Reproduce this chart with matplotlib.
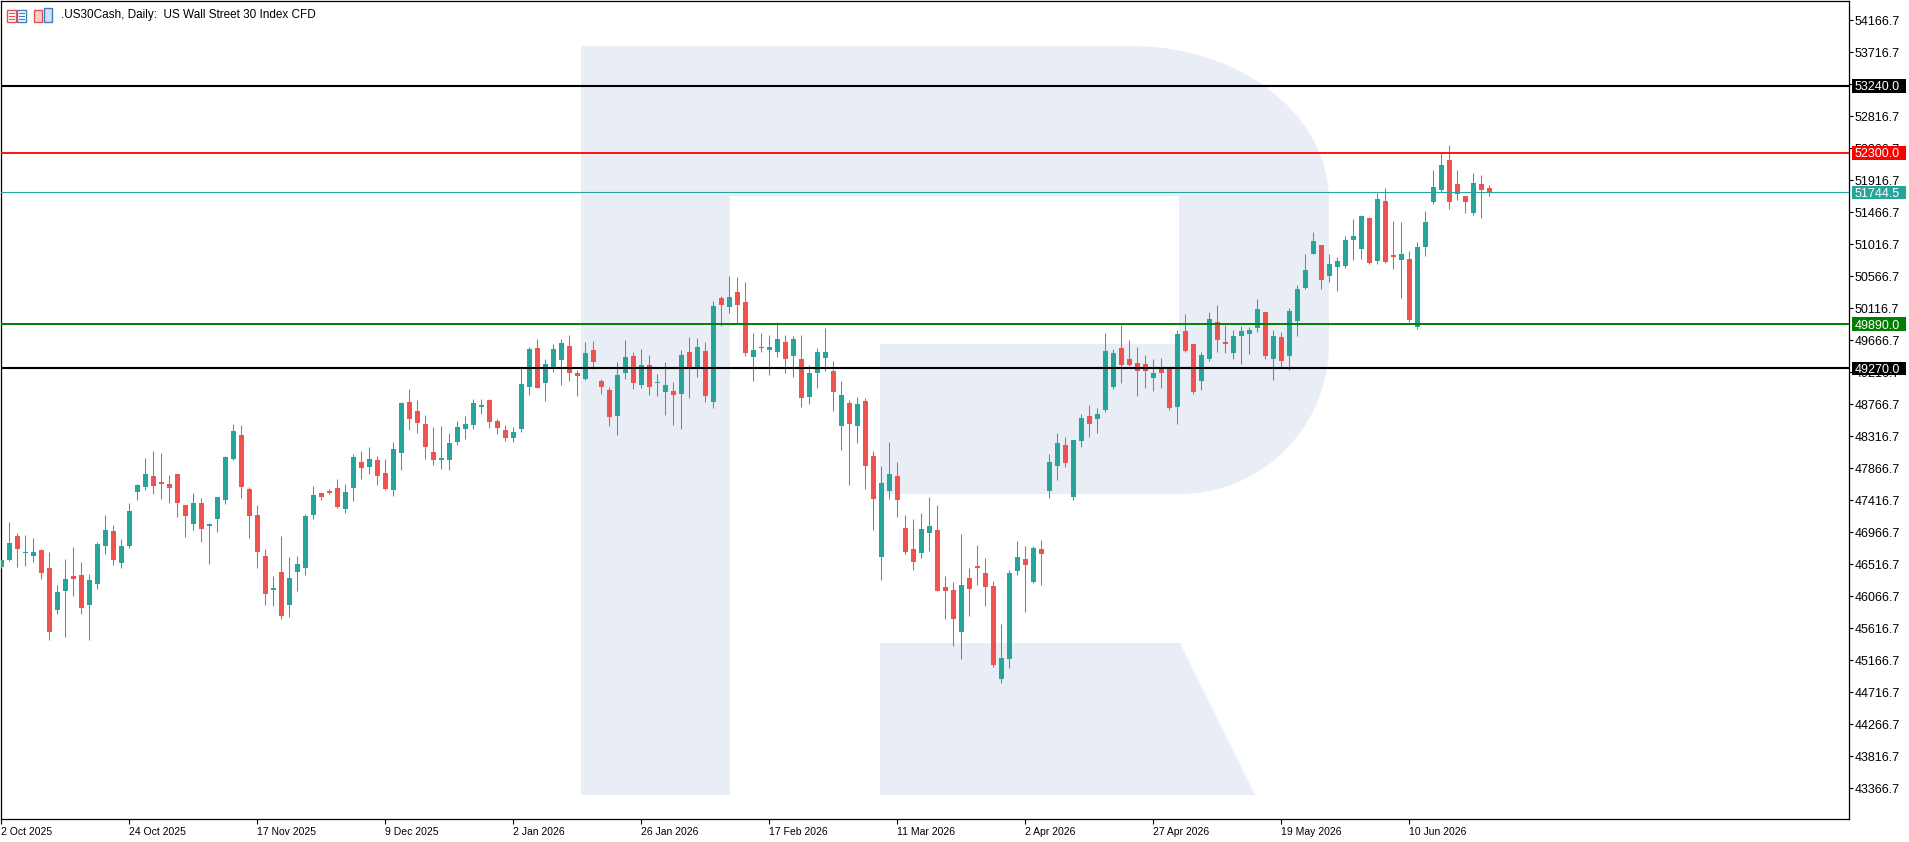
"""Daily candlestick chart of .US30Cash with support / resistance levels."""

import matplotlib
import numpy as np

matplotlib.use("Agg")
import matplotlib.pyplot as plt
import matplotlib.transforms as mtransforms
from matplotlib.patches import Polygon, Rectangle

# OHLC per daily bar, 2 Oct 2025 .. 24 Jun 2026
opens = [46479, 46573, 46910, 46676, 46634, 46713, 46460, 45874, 46142, 46348,
         46362, 45945, 46240, 46774, 46981, 46535, 46774, 47534, 47604, 47754,
         47670, 47642, 47782, 47346, 47084, 47374, 47056, 47154, 47421, 47998,
         48331, 47571, 47206, 46629, 46156, 46404, 45945, 46409, 46465, 47210,
         47515, 47548, 47585, 47295, 47590, 47951, 47885, 47979, 47796, 47562,
         48082, 48795, 48668, 48485, 48092, 47984, 47984, 48237, 48420, 48476,
         48729, 48823, 48528, 48401, 48290, 48420, 49010, 49554, 49067, 49292,
         49390, 49582, 49203, 49123, 49526, 49090, 48964, 48603, 49207, 49442,
         49039, 49315, 49067, 48940, 48950, 48912, 49498, 49292, 49512, 48799,
         50257, 50135, 50342, 50201, 49432, 49551, 49526, 49501, 49636, 49442,
         49397, 48869, 49202, 49412, 49227, 48460, 48779, 48460, 48804, 48032,
         46618, 47544, 47763, 47031, 46737, 46673, 46951, 46991, 46190, 46160,
         45562, 46329, 46488, 46399, 46205, 44899, 45179, 46419, 46588, 46264,
         46737, 47544, 47898, 48187, 47455, 48246, 48595, 48565, 48679, 49008,
         49551, 49397, 49352, 49327, 49128, 49267, 49272, 48724, 49795, 49606,
         49093, 49402, 49924, 49641, 49486, 49720, 49750, 49835, 50059, 49397,
         49710, 49437, 49930, 50398, 50876, 51000, 50567, 50697, 50711, 51075,
         50950, 51379, 50776, 51618, 50861, 50796, 50801, 49845, 50975, 51603,
         51777, 52195, 51857, 51687, 51454, 51857, 51802]
highs = [46580, 47107, 46953, 46924, 46882, 46737, 46685, 46221, 46587, 46756,
         46545, 46376, 46826, 47206, 47065, 46868, 47374, 47642, 48007, 48106,
         48078, 47768, 47782, 47346, 47515, 47445, 47093, 47459, 48035, 48485,
         48471, 47599, 47346, 46728, 46348, 46910, 46615, 46629, 47220, 47614,
         47515, 47571, 47712, 47642, 48064, 48106, 48162, 48035, 47993, 48232,
         48795, 48978, 48823, 48612, 48443, 48457, 48359, 48528, 48598, 48837,
         48837, 48837, 48556, 48471, 48448, 49292, 49568, 49681, 49399, 49610,
         49681, 49737, 49245, 49638, 49652, 49118, 49006, 49357, 49667, 49498,
         49540, 49456, 49189, 49357, 49076, 49526, 49709, 49695, 49638, 50215,
         50285, 50567, 50553, 50482, 49765, 49760, 49735, 49920, 49735, 49720,
         49735, 49312, 49551, 49840, 49367, 49088, 48824, 48874, 48849, 48102,
         47893, 48241, 47948, 47215, 47146, 47230, 47464, 47355, 46344, 46269,
         46946, 46458, 46792, 46598, 46274, 45682, 46429, 46837, 46767, 46767,
         46852, 48072, 48356, 48311, 48266, 48635, 48749, 48709, 49760, 49536,
         49880, 49666, 49566, 49451, 49397, 49417, 49292, 49805, 50029, 49606,
         49497, 50059, 50159, 49885, 49805, 49860, 49845, 50238, 50059, 49805,
         49785, 50114, 50437, 50876, 51185, 51000, 50876, 50831, 51125, 51369,
         51429, 51394, 51737, 51802, 51339, 51324, 50916, 51050, 51483, 52056,
         52295, 52410, 52056, 51687, 52011, 51986, 51852]
lows = [46470, 46564, 46479, 46493, 46549, 46310, 45453, 45818, 45495, 46071,
        45818, 45453, 46170, 46662, 46507, 46465, 46746, 47421, 47562, 47506,
        47435, 47379, 47182, 46901, 46999, 46831, 46521, 46971, 47365, 47984,
        47449, 46887, 46465, 45945, 45931, 45753, 45776, 46142, 46367, 47154,
        47421, 47506, 47309, 47239, 47407, 47717, 47787, 47632, 47562, 47478,
        47843, 48406, 48363, 47998, 47914, 47857, 47843, 48195, 48279, 48420,
        48631, 48434, 48349, 48250, 48230, 48380, 48898, 48996, 48814, 49221,
        49039, 49095, 48884, 49109, 49264, 48912, 48462, 48340, 49123, 48982,
        48996, 48898, 48884, 48617, 48476, 48420, 48856, 49151, 48799, 48715,
        49868, 50051, 49910, 49442, 49095, 49506, 49173, 49427, 49202, 49148,
        48724, 48764, 48988, 49232, 48665, 48122, 47629, 48221, 47569, 47000,
        46299, 47430, 47181, 46658, 46434, 46608, 46707, 46145, 45751, 45373,
        45189, 45786, 46219, 45926, 45074, 44850, 45064, 46359, 45851, 46249,
        46219, 47445, 47698, 47878, 47420, 48162, 48301, 48361, 48650, 48983,
        49063, 49297, 48879, 48993, 48953, 48998, 48690, 48485, 49501, 48909,
        48963, 49372, 49501, 49486, 49397, 49332, 49471, 49785, 49397, 49103,
        49272, 49247, 49720, 50388, 50876, 50383, 50487, 50358, 50681, 50791,
        50806, 50736, 50731, 50751, 50667, 50253, 49920, 49825, 50846, 51583,
        51752, 51513, 51638, 51459, 51429, 51384, 51697]
closes = [46573, 46812, 46732, 46685, 46685, 46395, 45565, 46123, 46306, 46310,
          45902, 46292, 46798, 46995, 46578, 46770, 47262, 47628, 47782, 47618,
          47646, 47590, 47379, 47196, 47374, 47014, 47084, 47459, 48021, 48387,
          47604, 47196, 46690, 46099, 46179, 45790, 46320, 46517, 47192, 47487,
          47464, 47520, 47323, 47529, 48021, 47871, 47993, 47759, 47576, 48134,
          48781, 48560, 48504, 48167, 47984, 48007, 48218, 48443, 48485, 48781,
          48753, 48518, 48434, 48293, 48380, 49048, 49540, 48996, 49329, 49540,
          49624, 49207, 49165, 49484, 49362, 49010, 48589, 49174, 49428, 49067,
          49315, 49010, 49076, 49034, 48898, 49456, 49292, 49568, 48884, 50145,
          50159, 50271, 50164, 49489, 49526, 49566, 49566, 49676, 49402, 49676,
          48849, 49198, 49496, 49496, 48939, 48889, 48485, 48764, 47898, 47430,
          47664, 47778, 47420, 46688, 46543, 47006, 47056, 46145, 46140, 45751,
          46229, 46175, 46468, 46194, 45104, 45204, 46399, 46623, 46503, 46742,
          46658, 47948, 48216, 47937, 48256, 48575, 48485, 48625, 49511, 49481,
          49312, 49317, 49232, 49232, 49198, 49202, 48714, 49750, 49516, 48939,
          49457, 49959, 49666, 49611, 49720, 49790, 49810, 50099, 49437, 49720,
          49367, 50074, 50383, 50647, 51055, 50512, 50731, 50776, 51070, 51125,
          51409, 50751, 51648, 50766, 50836, 50876, 49944, 50970, 51324, 51817,
          52126, 51613, 51722, 51613, 51872, 51777, 51744.5]

date_labels = ["2 Oct 2025", "24 Oct 2025", "17 Nov 2025", "9 Dec 2025",
               "2 Jan 2026", "26 Jan 2026", "17 Feb 2026", "11 Mar 2026",
               "2 Apr 2026", "27 Apr 2026", "19 May 2026", "10 Jun 2026"]
date_step = 16

price_ticks = [54166.7 - 450 * k for k in range(25)]

# horizontal levels: value, colour, line width
levels = [53240.0, 52300.0, 51744.5, 49890.0, 49270.0]
level_colors = ["#000000", "#FF0000", "#26A69A", "#008000", "#000000"]
level_widths = [1.5, 1.3, 0.8, 1.4, 1.5]

UP = "#26A69A"
DOWN = "#EF5350"
WATERMARK = "#E9EEF6"

W, H = 1909, 842
FONT = "Liberation Sans"


def px(x, y):
    """Figure pixel (origin top-left) -> figure fraction."""
    return x / W, 1 - y / H


def main() -> None:
    fig = plt.figure(figsize=(W / 100, H / 100), dpi=100)
    fig.patch.set_facecolor("white")
    left, top = px(1, 1)
    right, bottom = px(1849, 819)
    ax = fig.add_axes([left, bottom, right - left, top - bottom])
    ax.set_facecolor("white")

    o = np.array(opens, dtype=float)
    h = np.array(highs, dtype=float)
    l = np.array(lows, dtype=float)
    c = np.array(closes, dtype=float)
    x = np.arange(len(o))
    colors = np.where(c >= o, UP, DOWN)

    ax.set_xlim(-0.0625, 230.94)
    ax.set_ylim(42935, 54434)

    # watermark "R"
    arc_top = [(1132 + 197 * np.sin(t), 200 - 154 * np.cos(t)) for t in np.linspace(0, np.pi / 2, 20)]
    arc_bot = [(1180 + 149 * np.cos(t), 344 + 150 * np.sin(t)) for t in np.linspace(0, np.pi / 2, 20)]
    body = ([(581, 46)] + arc_top + [(1329, 344)] + arc_bot
            + [(880, 494), (880, 344), (1179, 344), (1179, 196), (730, 196), (730, 795), (581, 795)])
    leg = [(880, 643), (1180, 643), (1255, 795), (880, 795)]
    for shape in (body, leg):
        ax.add_patch(Polygon([px(*p) for p in shape], closed=True, transform=fig.transFigure,
                             facecolor=WATERMARK, edgecolor="none", zorder=0.5))

    # candles
    ax.vlines(x, l, h, colors=colors, linewidth=0.75, zorder=3)
    heights = np.maximum(np.abs(c - o), 14)
    ax.bar(x, heights, bottom=np.minimum(o, c), width=0.625, color=colors,
           linewidth=0, zorder=3)

    for value, col, lw in zip(levels, level_colors, level_widths):
        ax.axhline(value, color=col, linewidth=lw, zorder=4)

    # axes styling
    for sp in ax.spines.values():
        sp.set_color("black")
        sp.set_linewidth(0.9)
    ax.yaxis.tick_right()
    ax.set_yticks(price_ticks)
    ax.set_yticklabels([f"{v:.1f}" for v in price_ticks], fontfamily=FONT, fontsize=9)
    ax.tick_params(axis="y", length=3, width=0.8, pad=1)
    ticks_x = [date_step * k for k in range(len(date_labels))]
    ax.set_xticks(ticks_x)
    ax.set_xticklabels(date_labels, fontfamily=FONT, fontsize=7.5, ha="left")
    ax.tick_params(axis="x", length=3.5, width=0.8, pad=2)

    # price boxes on the right scale
    blend = mtransforms.blended_transform_factory(fig.transFigure, ax.transData)
    for value, col in zip(levels, level_colors):
        box = Rectangle((1852 / W, value - 95), 54 / W, 190, transform=blend,
                        facecolor=col, edgecolor="none", clip_on=False, zorder=5)
        fig.add_artist(box)
        fig.text(1855 / W, 0, f"{value:.1f}", transform=blend, fontsize=9, fontfamily=FONT,
                 color="white", ha="left", va="center_baseline", zorder=6)
        fig.texts[-1].set_y(value)

    # header icons and caption
    fig.add_artist(Rectangle(px(7, 22), 9 / W, 12 / H, transform=fig.transFigure,
                             facecolor="white", edgecolor="#E8504F", linewidth=1))
    fig.add_artist(Rectangle(px(17, 22), 9 / W, 12 / H, transform=fig.transFigure,
                             facecolor="white", edgecolor="#3A7FC4", linewidth=1))
    for yy in (13, 16, 19):
        fig.add_artist(plt.Line2D([9 / W, 14 / W], [1 - yy / H] * 2, color="#E8504F", linewidth=0.8))
        fig.add_artist(plt.Line2D([19 / W, 24 / W], [1 - yy / H] * 2, color="#3A7FC4", linewidth=0.8))
    fig.add_artist(Rectangle(px(34, 22), 8 / W, 12 / H, transform=fig.transFigure,
                             facecolor="#F8D0D0", edgecolor="#E8504F", linewidth=1))
    fig.add_artist(Rectangle(px(44, 22), 8 / W, 14 / H, transform=fig.transFigure,
                             facecolor="#CFE3F5", edgecolor="#3A7FC4", linewidth=1))
    fig.text(61 / W, 1 - 15 / H, ".US30Cash, Daily:  US Wall Street 30 Index CFD",
             fontsize=8.5, fontfamily=FONT, color="black", ha="left", va="center")

    fig.savefig("out.png", dpi=100)
    plt.close(fig)


if __name__ == "__main__":
    main()
